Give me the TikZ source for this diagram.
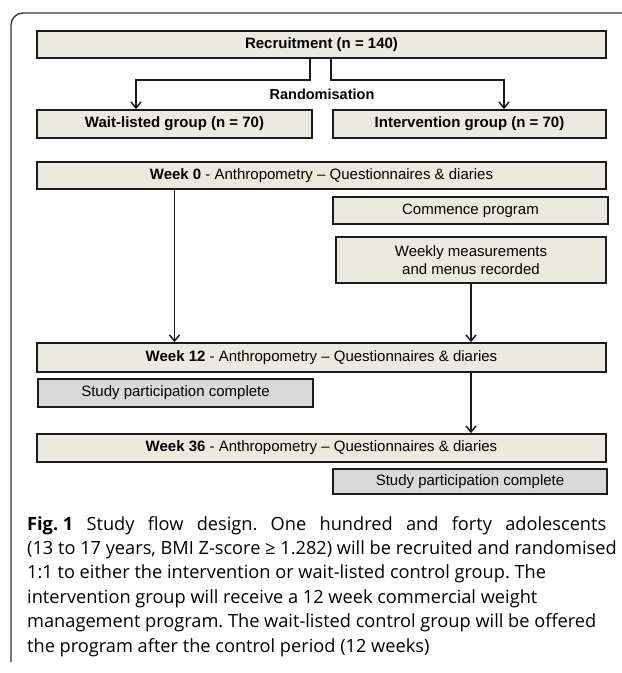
\documentclass[tikz,border=0pt]{standalone}
\usepackage{fontspec}
\setmainfont{Liberation Sans}
\newfontfamily\capfont{Open Sans}
\usetikzlibrary{arrows.meta}
\definecolor{boxfill}{HTML}{ECEADF}
\definecolor{grayfill}{HTML}{D9D9D9}
\definecolor{edge}{HTML}{1C1C1C}
\definecolor{framec}{HTML}{333333}
\frenchspacing
\begin{document}
\begin{tikzpicture}[x=1pt,y=-1pt,
  box/.style={draw=edge, line width=1.8pt, fill=boxfill, inner sep=0pt,
    font=\fontsize{15}{18}\selectfont, align=center},
  graybox/.style={box, fill=grayfill},
  conn/.style={draw=edge, line width=1.5pt},
  arr/.style={conn, -{Straight Barb[length=6pt,width=10pt]}},
  capline/.style={anchor=base west, inner sep=0pt, font=\capfont\fontsize{18.2}{22}\selectfont},
  framestyle/.style={draw=framec, line width=1.3pt, rounded corners=12pt}]
\fill[white] (0,0) rectangle (622,673);
\useasboundingbox (0,0) rectangle (622,673);

\draw[framestyle] (11,662) -- (11,13) -- (622,13);

\node[box, minimum width=569pt, minimum height=27pt] (rec) at (321.5,44.5) {\textbf{Recruitment (n = 140)}};
\node[box, minimum width=275pt, minimum height=28pt] (wait) at (174.5,124) {\textbf{Wait-listed group (n = 70)}};
\node[box, minimum width=273pt, minimum height=28pt] (int) at (469.5,124) {\textbf{Intervention group (n = 70)}};
\node[font=\bfseries\fontsize{14.5}{16}\selectfont, inner sep=0pt] (rand) at (322,94) {Randomisation};

\node[box, minimum width=569pt, minimum height=27pt] (wk0) at (321.5,175.5) {\textbf{Week 0} - Anthropometry -- Questionnaires \& diaries};
\node[box, minimum width=275pt, minimum height=27pt] (comm) at (470.5,210.5) {Commence program};
\node[box, minimum width=270pt, minimum height=46pt] (weekly) at (471,260) {Weekly measurements\\and menus recorded};

\node[box, minimum width=569pt, minimum height=29pt] (wk12) at (321.5,357.5) {\textbf{Week 12} - Anthropometry -- Questionnaires \& diaries};
\node[graybox, minimum width=275pt, minimum height=28pt] (study1) at (175.5,393) {Study participation complete};
\node[box, minimum width=569pt, minimum height=28pt] (wk36) at (321.5,448) {\textbf{Week 36} - Anthropometry -- Questionnaires \& diaries};
\node[graybox, minimum width=274pt, minimum height=25pt] (study2) at (470,481.5) {Study participation complete};

\draw[arr] ([xshift=-11.5pt]rec.south) -- ++(0,21) -| ([xshift=-38.5pt]wait.north);
\draw[arr] ([xshift=9.5pt]rec.south) -- ++(0,21) -| ([xshift=34.5pt]int.north);
\draw[arr] (wk0.south -| wait.south) -- (wk12.north -| wait.south);
\draw[arr] (weekly.south) -- (wk12.north -| weekly.south);
\draw[arr] (wk12.south -| weekly.south) -- (wk36.north -| weekly.south);

\node[capline] (c1) at (27,530) {\makebox[579pt][s]{\mbox{\textbf{Fig. 1}} Study flow design. One hundred and forty adolescents}};
\node[capline] (c2) at (27,554.4) {(13 to 17 years, BMI Z-score ≥ 1.282) will be recruited and randomised};
\node[capline] (c3) at (27,578.8) {1:1 to either the intervention or wait-listed control group. The};
\node[capline] (c4) at (27,603.2) {intervention group will receive a 12 week commercial weight};
\node[capline] (c5) at (27,627.6) {management program. The wait-listed control group will be offered};
\node[capline] (c6) at (27,652) {the program after the control period (12 weeks)};
\end{tikzpicture}
\end{document}
